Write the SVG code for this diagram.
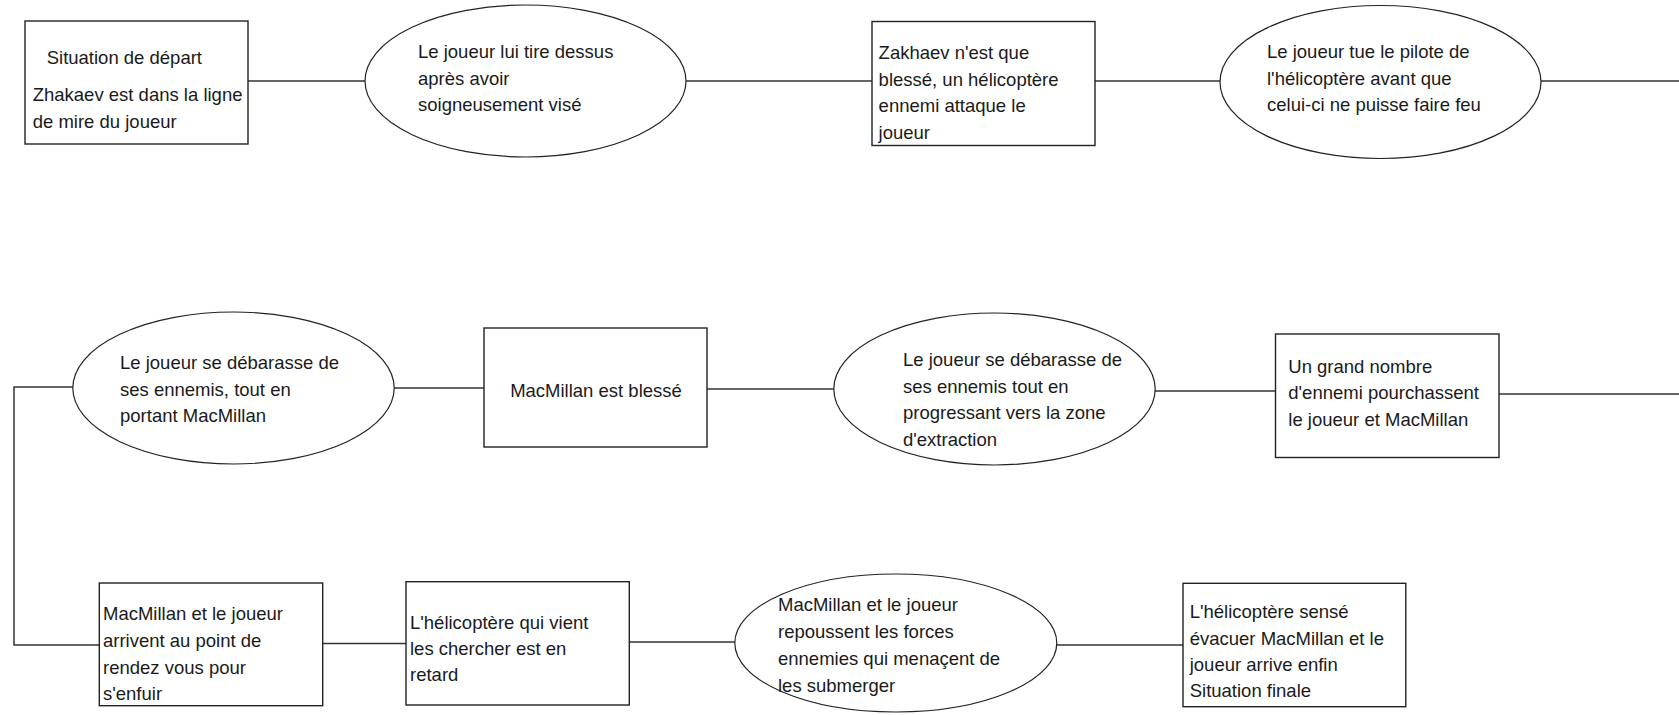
<svg xmlns="http://www.w3.org/2000/svg" width="1679" height="715" viewBox="0 0 1679 715">
<style>
.box{fill:#fff;stroke:#222;stroke-width:1.4}
.ell{fill:#fff;stroke:#222;stroke-width:1.2}
.con{stroke:#333;stroke-width:1.5;fill:none}
text{font-family:"Liberation Sans",Arial,sans-serif;font-size:18.5px;fill:#1a1a1a}
</style>
<rect width="1679" height="715" fill="#fff"/>
<g id="connectors">
<line class="con" x1="248" y1="81" x2="365" y2="81"/>
<line class="con" x1="686" y1="81" x2="872" y2="81"/>
<line class="con" x1="1095" y1="81" x2="1220" y2="81"/>
<line class="con" x1="1541" y1="81" x2="1679" y2="81"/>
<line class="con" x1="394" y1="388" x2="484" y2="388"/>
<line class="con" x1="707" y1="389" x2="834" y2="389"/>
<line class="con" x1="1155" y1="391" x2="1275" y2="391"/>
<line class="con" x1="1499" y1="394" x2="1679" y2="394"/>
<polyline class="con" points="73,387 14,387 14,645 99,645"/>
<line class="con" x1="323" y1="643.5" x2="406" y2="643.5"/>
<line class="con" x1="629" y1="642" x2="735" y2="642"/>
<line class="con" x1="1057" y1="645" x2="1183" y2="645"/>
</g>
<g id="n1">
<rect class="box" x="25" y="21" width="223" height="123"/>
<text x="46.7" y="64">Situation de départ</text>
<text x="32.7" y="101">Zhakaev est dans la ligne</text>
<text x="32.7" y="127.5">de mire du joueur</text>
</g>
<g id="n2">
<ellipse class="ell" cx="525.5" cy="81" rx="160.5" ry="76"/>
<text x="418" y="58">Le joueur lui tire dessus</text>
<text x="418" y="85">après avoir</text>
<text x="418" y="111">soigneusement visé</text>
</g>
<g id="n3">
<rect class="box" x="872" y="21.5" width="223" height="124"/>
<text x="878.6" y="59">Zakhaev n'est que</text>
<text x="878.6" y="85.5">blessé, un hélicoptère</text>
<text x="878.6" y="112">ennemi attaque le</text>
<text x="878.6" y="138.5">joueur</text>
</g>
<g id="n4">
<ellipse class="ell" cx="1380.5" cy="82" rx="160.5" ry="76.5"/>
<text x="1267" y="58">Le joueur tue le pilote de</text>
<text x="1267" y="84.5">l'hélicoptère avant que</text>
<text x="1267" y="111">celui-ci ne puisse faire feu</text>
</g>
<g id="n5">
<ellipse class="ell" cx="233.5" cy="388" rx="160.7" ry="76"/>
<text x="120" y="369">Le joueur se débarasse de</text>
<text x="120" y="395.5">ses ennemis, tout en</text>
<text x="120" y="422">portant MacMillan</text>
</g>
<g id="n6">
<rect class="box" x="484" y="328" width="223" height="119"/>
<text x="596" y="397" text-anchor="middle">MacMillan est blessé</text>
</g>
<g id="n7">
<ellipse class="ell" cx="994.5" cy="389" rx="160.7" ry="76"/>
<text x="903" y="366">Le joueur se débarasse de</text>
<text x="903" y="392.5">ses ennemis tout en</text>
<text x="903" y="419">progressant vers la zone</text>
<text x="903" y="445.5">d'extraction</text>
</g>
<g id="n8">
<rect class="box" x="1275.5" y="334" width="223.5" height="123.5"/>
<text x="1288.3" y="372.7">Un grand nombre</text>
<text x="1288.3" y="399.3">d'ennemi pourchassent</text>
<text x="1288.3" y="425.5">le joueur et MacMillan</text>
</g>
<g id="n9">
<rect class="box" x="99.3" y="583" width="223.4" height="122.7"/>
<text x="103" y="619.5">MacMillan et le joueur</text>
<text x="103" y="646.5">arrivent au point de</text>
<text x="103" y="673.5">rendez vous pour</text>
<text x="103" y="699.5">s'enfuir</text>
</g>
<g id="n10">
<rect class="box" x="406" y="581.7" width="223.3" height="123.3"/>
<text x="410" y="629">L'hélicoptère qui vient</text>
<text x="410" y="655">les chercher est en</text>
<text x="410" y="681">retard</text>
</g>
<g id="n11">
<ellipse class="ell" cx="895.8" cy="643" rx="161" ry="69"/>
<text x="778" y="611">MacMillan et le joueur</text>
<text x="778" y="638">repoussent les forces</text>
<text x="778" y="665">ennemies qui menaçent de</text>
<text x="778" y="692">les submerger</text>
</g>
<g id="n12">
<rect class="box" x="1183" y="583.3" width="222.8" height="123.4"/>
<text x="1189.7" y="618">L'hélicoptère sensé</text>
<text x="1189.7" y="644.5">évacuer MacMillan et le</text>
<text x="1189.7" y="671">joueur arrive enfin</text>
<text x="1189.7" y="697">Situation finale</text>
</g>
</svg>
